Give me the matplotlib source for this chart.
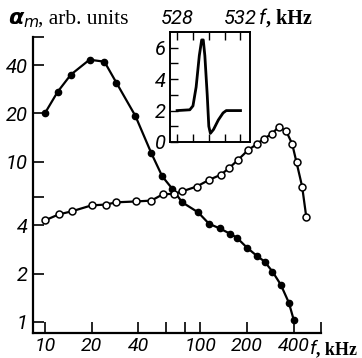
import matplotlib
matplotlib.use('Agg')
import matplotlib.pyplot as plt

# ── data ─────────────────────────────────────────────────────────────────────
f_filled = [10, 12.1, 14.7, 19.4, 24.2, 28.9, 38.3, 48.5, 57, 66, 76.6, 97,
            114, 134, 155, 172, 200, 231, 260, 292, 330, 372, 400]
a_filled = [20, 27.3, 34.9, 43.3, 42.1, 31.1, 19.3, 11.3, 8.1, 6.8, 5.58, 4.83,
            4.1, 3.83, 3.56, 3.36, 2.91, 2.59, 2.38, 2.06, 1.71, 1.32, 1.03]

f_open = [10, 12.3, 14.9, 20, 24.6, 28.9, 38.9, 48.5, 57.7, 68, 76.6, 95, 114,
          136, 153, 174, 203, 232, 256, 289, 320, 358, 391, 417, 453, 482]
a_open = [4.3, 4.69, 4.9, 5.34, 5.4, 5.58, 5.65, 5.72, 6.27, 6.3, 6.53, 7.0, 7.7,
          8.3, 9.1, 10.2, 11.8, 12.9, 13.9, 14.9, 16.5, 15.5, 12.9, 9.9, 7.0, 4.5]

# inset resonance curve
f_ins = [528, 528.8, 529.0, 529.2, 529.4, 529.55, 529.65, 529.75, 529.9, 530.0,
         530.1, 530.3, 530.6, 530.9, 531.1, 532]
a_ins = [2, 2.05, 2.3, 3.5, 5.5, 6.5, 6.5, 5.5, 3.0, 1.0, 0.55, 0.8, 1.4, 1.85, 2, 2]

x_major = [10, 20, 40, 100, 200, 400]
x_minor = [60, 80, 600]
y_major = [1, 2, 4, 10, 20, 40]
y_minor = [6, 60]

NARROW = ['Roboto', 'DejaVu Sans']
TICKFONT = dict(family=NARROW, style='italic', size=14.5)
XTICKFONT = dict(family=NARROW, style='italic', size=14)
SERIF = ['Liberation Serif', 'DejaVu Serif']

fig = plt.figure(figsize=(3.62, 3.58), dpi=100)
ax = fig.add_axes([0.0912, 0.0698, 0.7958, 0.8268])

ax.plot(f_filled, a_filled, '-', color='black', lw=1.6, marker='o', ms=4.5,
        mfc='black', mec='black')
ax.plot(f_open, a_open, '-', color='black', lw=1.6, marker='o', ms=5,
        mfc='white', mec='black', mew=1.1)

ax.set_xscale('log')
ax.set_yscale('log')
ax.set_xlim(8.4, 600)
ax.set_ylim(0.853, 60)

ax.set_xticks(x_major)
ax.set_xticklabels([str(v) for v in x_major], fontdict=XTICKFONT)
ax.set_xticks(x_minor, minor=True)
ax.set_xticklabels([], minor=True)
ax.set_yticks(y_major)
ax.set_yticklabels([str(v) for v in y_major], fontdict=TICKFONT)
ax.set_yticks(y_minor, minor=True)
ax.set_yticklabels([], minor=True)

for s in ('top', 'right'):
    ax.spines[s].set_visible(False)
for s in ('left', 'bottom'):
    ax.spines[s].set_linewidth(1.6)
ax.tick_params(which='both', direction='in', length=8, width=1.2)
ax.tick_params(axis='y', pad=4)
ax.tick_params(axis='x', pad=3)

fig.text(0.022, 0.933, r'$\boldsymbol{\alpha}_m$', fontsize=16, ha='left', va='baseline')
fig.text(0.105, 0.933, ', arb. units', fontsize=15.5, family=SERIF, ha='left', va='baseline')

fig.text(0.857, 0.01, 'f', fontsize=14, family=NARROW,
         style='italic', ha='left', va='baseline')
fig.text(0.874, 0.01, ', kHz', fontsize=13, family=SERIF, weight='bold',
         ha='left', va='baseline')

# ── inset ────────────────────────────────────────────────────────────────────
ins = fig.add_axes([0.4696, 0.6034, 0.221, 0.307])
ins.plot(f_ins, a_ins, '-', color='black', lw=2.0)
ins.set_xlim(527.55, 532.6)
ins.set_ylim(0, 7)
ins.set_xticks([528, 529, 530, 531, 532])
ins.set_xticklabels(['528', '', '', '', '532'], fontdict=TICKFONT)
ins.set_yticks([0, 2, 4, 6])
ins.set_yticklabels(['0', '2', '4', '6'], fontdict=TICKFONT)
ins.set_yticks([1, 3, 5], minor=True)
ins.tick_params(which='both', direction='in', length=6, width=1.0,
                top=True, bottom=True, labeltop=True, labelbottom=False)
ins.tick_params(axis='y', pad=3)
ins.tick_params(axis='x', pad=3)
for s in ins.spines.values():
    s.set_linewidth(1.4)

fig.text(0.715, 0.933, 'f', fontsize=14.5, family=NARROW,
         style='italic', ha='left', va='baseline')
fig.text(0.735, 0.933, ', kHz', fontsize=14.5, family=SERIF, weight='bold',
         ha='left', va='baseline')

fig.savefig('out.png', dpi=100)
